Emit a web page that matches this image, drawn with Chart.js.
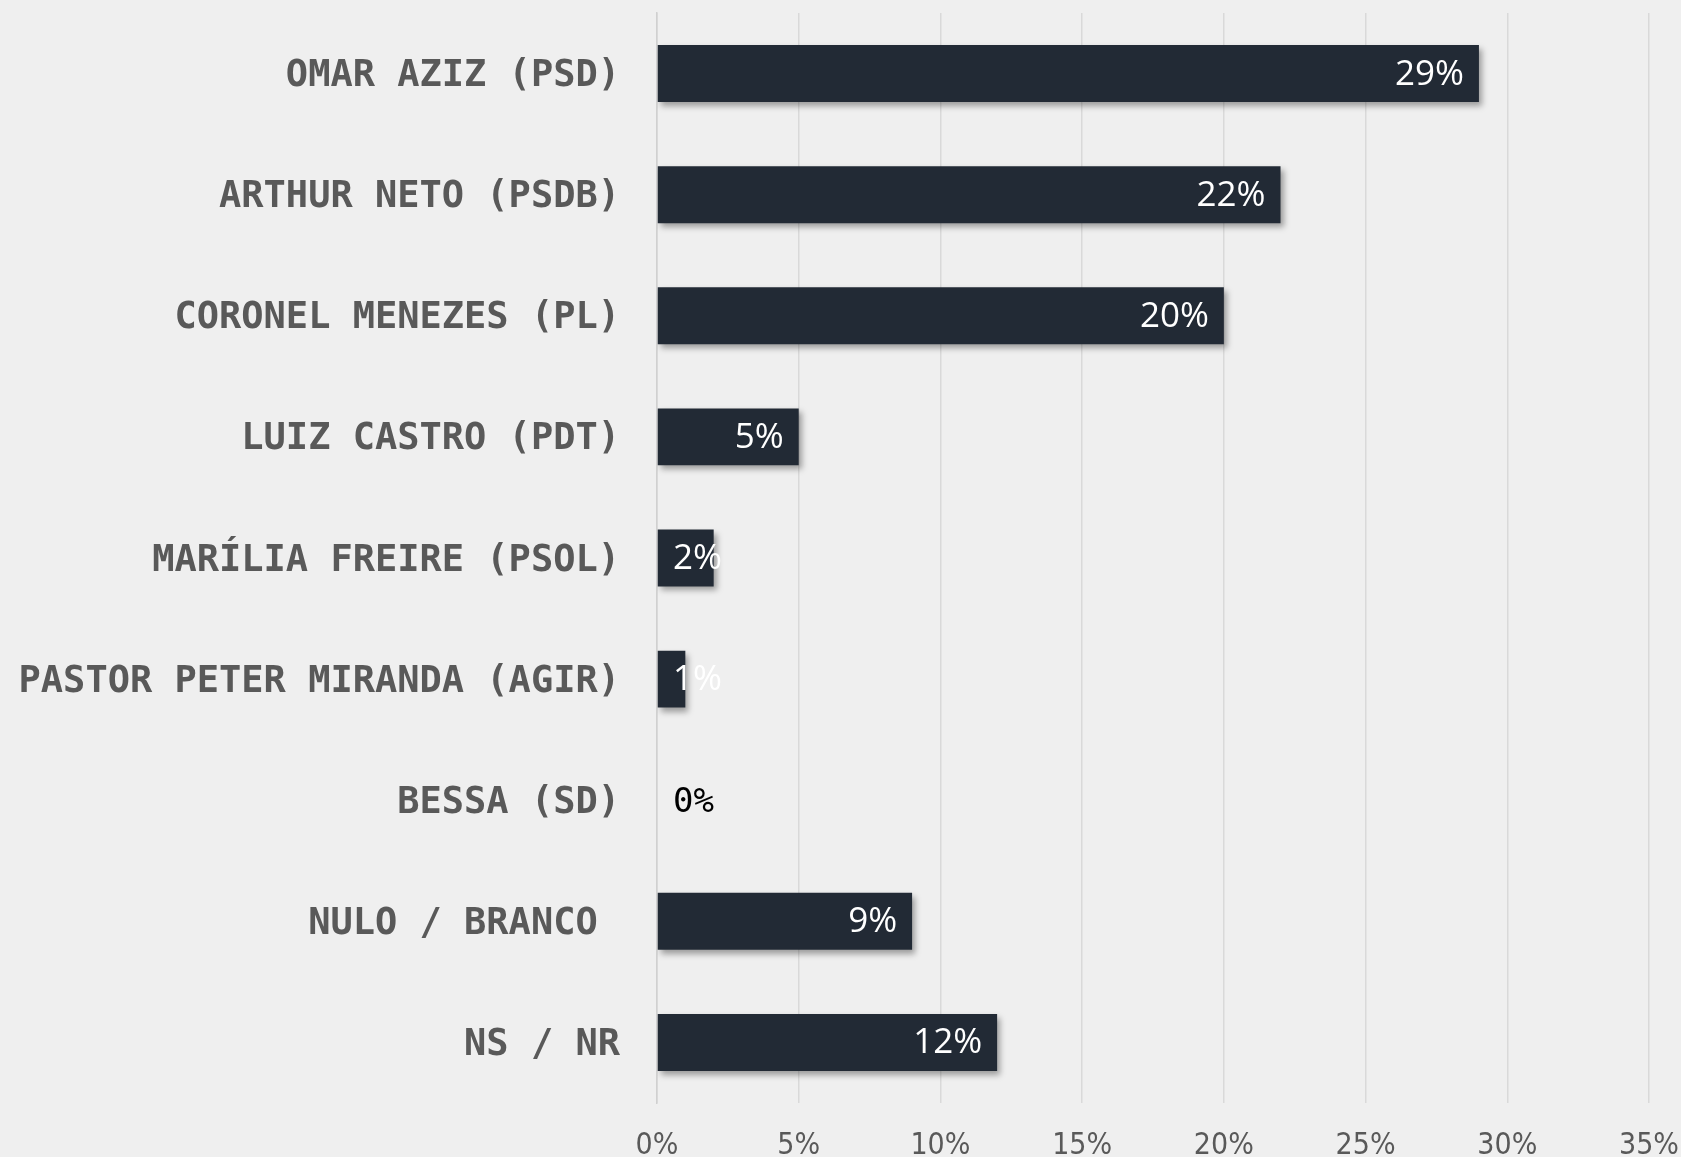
<!DOCTYPE html>
<html>
<head>
<meta charset="utf-8">
<script src="https://cdn.jsdelivr.net/npm/chart.js@4"></script>
<style>
  html, body { margin: 0; padding: 0; background: #efefef; }
  #wrap { width: 1681px; height: 1157px; position: relative; }
</style>
</head>
<body>
<div id="wrap"><canvas id="chart" width="1681" height="1157"></canvas></div>
<script>
// data
const candidates = [
  "OMAR AZIZ (PSD)",
  "ARTHUR NETO (PSDB)",
  "CORONEL MENEZES (PL)",
  "LUIZ CASTRO (PDT)",
  "MARÍLIA FREIRE (PSOL)",
  "PASTOR PETER MIRANDA (AGIR)",
  "BESSA (SD)",
  "NULO / BRANCO ",
  "NS / NR"
];
const votes = [29, 22, 20, 5, 2, 1, 0, 9, 12];
const xTicks = [0, 5, 10, 15, 20, 25, 30, 35];

// soft drop shadow under the bars
const barShadow = {
  id: "barShadow",
  beforeDatasetDraw(chart) {
    const ctx = chart.ctx;
    ctx.save();
    ctx.shadowColor = "rgba(0,0,0,0.35)";
    ctx.shadowBlur = 6;
    ctx.shadowOffsetX = 3;
    ctx.shadowOffsetY = 4;
  },
  afterDatasetDraw(chart) {
    chart.ctx.restore();
  }
};

// value labels at the end of each bar
const valueLabels = {
  id: "valueLabels",
  afterDatasetsDraw(chart) {
    const ctx = chart.ctx;
    const meta = chart.getDatasetMeta(0);
    const x0 = chart.scales.x.getPixelForValue(0);
    ctx.save();
    ctx.textBaseline = "middle";
    ctx.textAlign = "right";
    meta.data.forEach((bar, i) => {
      const v = votes[i];
      const txt = v + "%";
      let dy = 1;
      if (v === 0) {
        ctx.font = "34px 'DejaVu Sans Mono'";
        ctx.fillStyle = "#000000";
        dy = 3;
      } else {
        ctx.font = "35px 'Open Sans'";
        ctx.fillStyle = "#ffffff";
      }
      const w = ctx.measureText(txt).width;
      const xr = Math.max(bar.x - 15, x0 + 16 + w);
      ctx.fillText(txt, xr, bar.y + dy);
    });
    ctx.restore();
  }
};

new Chart(document.getElementById("chart"), {
  type: "bar",
  data: {
    labels: candidates,
    datasets: [{
      data: votes,
      backgroundColor: "#222a35",
      borderWidth: 0,
      barPercentage: 0.47,
      categoryPercentage: 1
    }]
  },
  options: {
    indexAxis: "y",
    responsive: false,
    animation: false,
    layout: { padding: { top: 13, right: 32, left: 0, bottom: 0 } },
    plugins: {
      legend: { display: false },
      tooltip: { enabled: false }
    },
    scales: {
      x: {
        min: 0,
        max: 35,
        afterBuildTicks(scale) {
          scale.ticks = xTicks.map(v => ({ value: v }));
        },
        afterFit(scale) {
          scale.height = 54;
          scale.paddingLeft = 0;
          scale.paddingRight = 0;
        },
        grid: { color: "#d9d9d9", lineWidth: 1.5, drawTicks: false },
        border: { display: false },
        ticks: {
          padding: 25,
          color: "#595959",
          font: { family: "'Liberation Sans Narrow', 'DejaVu Sans Condensed', sans-serif", size: 30 },
          callback: v => v + "%"
        }
      },
      y: {
        afterFit(scale) {
          scale.width = 657;
          scale.paddingTop = 0;
          scale.paddingBottom = 0;
        },
        grid: { display: false, drawTicks: false },
        border: { display: true, color: "#d0d0d0", width: 1.5 },
        ticks: {
          padding: 37,
          labelOffset: 3,
          color: "#595959",
          font: { family: "'DejaVu Sans Mono', monospace", size: 37, weight: "bold" }
        }
      }
    }
  },
  plugins: [barShadow, valueLabels]
});
</script>
</body>
</html>
